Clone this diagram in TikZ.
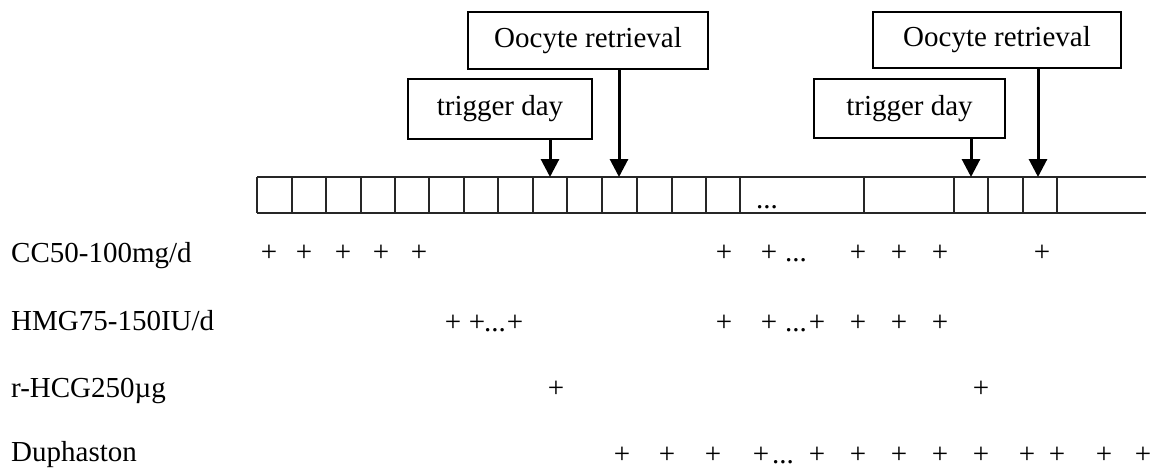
\documentclass[tikz,border=0pt]{standalone}
\usepackage{fontspec}
\setmainfont{Liberation Serif}
\usetikzlibrary{arrows.meta}
\begin{document}
\begin{tikzpicture}[x=1pt,y=-1pt,
  every node/.style={font=\fontsize{29}{34}\selectfont, inner sep=0pt},
  box/.style={draw, line width=2.1pt, rectangle},
  arr/.style={line width=3pt, -{Triangle[width=18pt,length=18pt]}},
  grid/.style={line width=1.3pt, draw=black!85},
  lab/.style={anchor=base west},
  pl/.style={anchor=base}]
\useasboundingbox (0,0) rectangle (1151,468);
% timeline bar
\draw[grid] (257,177) -- (1146,177);
\draw[grid] (257,213) -- (1146,213);
\foreach \x in {257,292,326,361,395,429,464,498,533,567,602,637,672,706,740,864,954,988,1023,1057}
  \draw[grid] (\x,177) -- (\x,213);
\node[anchor=base] (bardots) at (767,208) {...};
% boxes
\node[box, minimum width=240pt, minimum height=57pt] (or1) at (588,40.5) {Oocyte retrieval};
\node[box, minimum width=184pt, minimum height=60pt] (td1) at (500,109) {trigger day};
\node[box, minimum width=248pt, minimum height=56pt] (or2) at (997,40) {Oocyte retrieval};
\node[box, minimum width=191pt, minimum height=59pt] (td2) at (909.5,108.5) {trigger day};
\coordinate (t1) at (550,177);
\coordinate (t2) at (619,177);
\coordinate (t3) at (971,177);
\coordinate (t4) at (1038,177);
\draw[arr] (td1.south -| t1) -- (t1);
\draw[arr] (or1.south -| t2) -- (t2);
\draw[arr] (td2.south -| t3) -- (t3);
\draw[arr] (or2.south -| t4) -- (t4);
% labels
\node[lab] (lcc) at (11,262) {CC50-100mg/d};
\node[lab] (lhmg) at (11,330) {HMG75-150IU/d};
\node[lab] (lhcg) at (11,397) {r-HCG250µg};
\node[lab] (ldup) at (11,461) {Duphaston};
% CC row
\foreach \x [count=\i] in {269,304,343,381,419,724,769,858,899,940,1042}
  \node[pl] (cc\i) at (\x,261) {+};
\node[pl] (ccd) at (796,261) {...};
% HMG row
\foreach \x [count=\i] in {453,477,515,724,769,817,858,899,940}
  \node[pl] (hmg\i) at (\x,331) {+};
\node[pl] (hmgd1) at (495,331) {...};
\node[pl] (hmgd2) at (796,331) {...};
% r-HCG row
\foreach \x [count=\i] in {556,981}
  \node[pl] (hcg\i) at (\x,397) {+};
% Duphaston row
\foreach \x [count=\i] in {622,667,713,761,817,858,899,940,981,1027,1057,1104,1143}
  \node[pl] (dup\i) at (\x,463) {+};
\node[pl] (dupd) at (783,463) {...};
\end{tikzpicture}
\end{document}
